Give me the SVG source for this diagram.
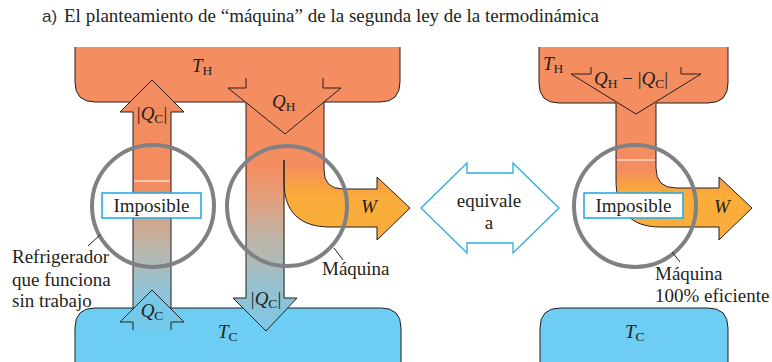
<svg xmlns="http://www.w3.org/2000/svg" width="772" height="362" viewBox="0 0 772 362">
<style>
.ol{stroke:#231f20;stroke-width:1;stroke-linejoin:miter}
.hot{fill:#f48d5f}
.cold{fill:#6dcdf2}
.nf{fill:none}
.circ{fill:none;stroke:#808184;stroke-width:4}
.box{fill:#fff;stroke:#29abe2;stroke-width:1.6}
.t{font-family:"Liberation Serif","Times New Roman",serif;font-size:19px;fill:#231f20}
.i{font-style:italic}
.s{font-size:13.5px;font-style:normal}
.lead{stroke:#231f20;stroke-width:1}
</style>
<defs>
<linearGradient id="gRef" gradientUnits="userSpaceOnUse" x1="0" y1="80" x2="0" y2="330">
<stop offset="0.42" stop-color="#f38c5f"/>
<stop offset="0.54" stop-color="#d9a386"/>
<stop offset="0.68" stop-color="#bab7ab"/>
<stop offset="0.84" stop-color="#92c4d6"/>
<stop offset="0.94" stop-color="#82c8e2"/>
</linearGradient>
<linearGradient id="gEng" gradientUnits="userSpaceOnUse" x1="0" y1="100" x2="0" y2="331">
<stop offset="0.29" stop-color="#f48d5f"/>
<stop offset="0.455" stop-color="#dea283"/>
<stop offset="0.585" stop-color="#c0b3a5"/>
<stop offset="0.67" stop-color="#b3b9b2"/>
<stop offset="0.80" stop-color="#97c1d0"/>
<stop offset="0.95" stop-color="#82c6e1"/>
</linearGradient>
<linearGradient id="gW" gradientUnits="userSpaceOnUse" x1="0" y1="100" x2="0" y2="230">
<stop offset="0.5" stop-color="#f48d5f"/>
<stop offset="0.69" stop-color="#faa53f"/>
<stop offset="0.77" stop-color="#fbad3b"/>
</linearGradient>
<linearGradient id="gW2" gradientUnits="userSpaceOnUse" x1="0" y1="100" x2="0" y2="230">
<stop offset="0.54" stop-color="#f48d5f"/>
<stop offset="0.67" stop-color="#f9a53f"/>
<stop offset="0.73" stop-color="#fbad3b"/>
</linearGradient>
</defs>

<text x="42" y="22" font-family="Liberation Sans, Arial, sans-serif" font-size="17" fill="#333">a)</text>
<text x="64" y="22" class="t" font-size="20">El planteamiento de “máquina” de la segunda ley de la termodinámica</text>

<g id="hot-left">
<path class="hot ol" d="M75,47 V82 Q75,102 95,102 H380 Q400,102 400,82 V47"/>
</g>
<g id="cold-left">
<path class="cold ol" d="M75,363 V328 Q75,308 95,308 H381 Q401,308 401,328 V363"/>
</g>
<g id="hot-right">
<path class="hot ol" d="M539,47 V83 Q539,103 559,103 H708 Q728,103 728,83 V47"/>
</g>
<g id="cold-right">
<path class="cold ol" d="M540,363 V328 Q540,308 560,308 H708 Q728,308 728,328 V363"/>
</g>

<g id="connectors">
<g id="refrigerator">
<path d="M133,309 V112 H120 L152,80 L184,112 H171 V309 Z" fill="url(#gRef)"/>
<path class="ol nf" d="M133,309 V112 H120 L152,80 L184,112 H171 V309"/>
<line x1="134" y1="181" x2="170" y2="181" stroke="#fff" stroke-width="1.2"/>
<path d="M133,330 V322 H120 L152,290 L184,322 H171 V330 Z" fill="#74c9ea"/>
<path class="ol nf" d="M133,330 V322 H120 L152,290 L184,322 H171 V330"/>
</g>
<g id="engine">
<path d="M246,101 H284.5 V298 H297 L266,331 L233,298 H246 Z" fill="url(#gEng)"/>
<path d="M284,101 H324 V170 Q324,189 343,189 H377 V177 L410,208 L377,240 V227 H330 C300,227 284,212 284,182 Z" fill="url(#gW)"/>
<path class="ol nf" d="M246,102 V298 H233 L266,331 L297,298 H284 V160"/>
<path class="ol nf" d="M284,160 V182 C284,212 300,227 330,227 H377 V240 L410,208 L377,177 V189 H343 Q324,189 324,170 V102"/>
<path class="hot ol" d="M246,78 V88 H228 L285,134 L341,88 H323 V78"/>
</g>
<g id="engine-100">
<path d="M616,102 H656 V168 Q656,188 676,188 H719 V177 L752,208 L719,240 V227 H660 C630,227 616,210 616,180 Z" fill="url(#gW2)"/>
<path class="ol nf" d="M616,103 V180 C616,210 630,227 660,227 H719 V240 L752,208 L719,177 V188 H676 Q656,188 656,168 V103"/>
<line x1="617" y1="160" x2="655" y2="160" stroke="#fff" stroke-width="1.2"/>
<path class="hot ol" d="M591,67 V74 H571 L636,114 L701,74 H681 V67"/>
</g>
</g>

<g id="equivale">
<polygon points="421,208 467,163 467,173 513,173 513,163 559,208 513,253 513,243 467,243 467,253" fill="#fff" stroke="#29abe2" stroke-width="1.3"/>
<text class="t" x="489" y="207" text-anchor="middle">equivale</text>
<text class="t" x="489" y="229" text-anchor="middle">a</text>
</g>

<g id="circle-refrigerator">
<circle class="circ" cx="153" cy="206" r="61"/>
<line class="lead" x1="100" y1="235" x2="88" y2="246"/>
<rect class="box" x="102" y="193" width="99" height="25"/>
<text class="t" x="151.5" y="211.5" text-anchor="middle">Imposible</text>
</g>
<g id="circle-engine">
<circle class="circ" cx="287" cy="206" r="60"/>
<line class="lead" x1="334" y1="248" x2="343" y2="260"/>
</g>
<g id="circle-engine-100">
<circle class="circ" cx="635" cy="206" r="61"/>
<line class="lead" x1="672" y1="252" x2="680" y2="262"/>
<rect class="box" x="584" y="193" width="99" height="25"/>
<text class="t" x="633.5" y="211.5" text-anchor="middle">Imposible</text>
</g>

<g id="labels">
<text class="t" x="192" y="72"><tspan class="i">T</tspan><tspan class="s" dy="3">H</tspan></text>
<text class="t" x="272" y="108"><tspan class="i">Q</tspan><tspan class="s" dy="3">H</tspan></text>
<text class="t" x="152" y="120" text-anchor="middle">|<tspan class="i">Q</tspan><tspan class="s" dy="3">C</tspan><tspan dy="-3">|</tspan></text>
<text class="t" x="152" y="317" text-anchor="middle"><tspan class="i">Q</tspan><tspan class="s" dy="3">C</tspan></text>
<text class="t" x="266" y="305" text-anchor="middle">|<tspan class="i">Q</tspan><tspan class="s" dy="3">C</tspan><tspan dy="-3">|</tspan></text>
<text class="t" x="218" y="338"><tspan class="i">T</tspan><tspan class="s" dy="3">C</tspan></text>
<text class="t i" x="361" y="213">W</text>
<text class="t" x="12" y="263">Refrigerador</text>
<text class="t" x="12" y="286">que funciona</text>
<text class="t" x="12" y="307">sin trabajo</text>
<text class="t" x="322" y="275">Máquina</text>
<text class="t" x="543" y="70"><tspan class="i">T</tspan><tspan class="s" dy="3">H</tspan></text>
<text class="t" x="594" y="85"><tspan class="i">Q</tspan><tspan class="s" dy="3">H</tspan><tspan dy="-3"> − |</tspan><tspan class="i">Q</tspan><tspan class="s" dy="3">C</tspan><tspan dy="-3">|</tspan></text>
<text class="t i" x="714" y="213">W</text>
<text class="t" x="655" y="280">Máquina</text>
<text class="t" x="655" y="302">100% eficiente</text>
<text class="t" x="625" y="338"><tspan class="i">T</tspan><tspan class="s" dy="3">C</tspan></text>
</g>
</svg>
